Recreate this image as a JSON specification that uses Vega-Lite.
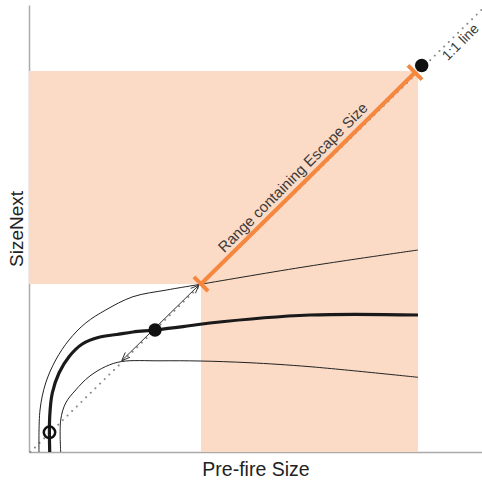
{
  "$schema": "https://vega.github.io/schema/vega-lite/v6.json",
  "autosize": {"type": "none"},
  "padding": {"left": 29, "top": 5, "right": 0, "bottom": 28},
  "width": 453,
  "height": 447,
  "config": {
    "view": {"stroke": null},
    "font": "Liberation Sans",
    "axis": {
      "domainColor": "#aaaaaa", "domainWidth": 1.5, "ticks": false, "labels": false, "grid": false,
      "titleFont": "Liberation Sans", "titleFontWeight": "normal", "titleColor": "#222222"
    }
  },
  "datasets": {
    "shade": [
      {"x": 0, "x2": 389, "y": 168, "y2": 381},
      {"x": 172, "x2": 389, "y": 0, "y2": 168}
    ],
    "oneToOne": [
      {"i": 0, "x": 1.3, "y": 0},
      {"i": 1, "x": 453, "y": 442.6}
    ],
    "curves": [
      {"curve": "upper", "i": 0, "x": 10, "y": 0},
      {"curve": "upper", "i": 1, "x": 11, "y": 42},
      {"curve": "upper", "i": 2, "x": 16.7, "y": 69},
      {"curve": "upper", "i": 3, "x": 26.7, "y": 92},
      {"curve": "upper", "i": 4, "x": 40, "y": 112},
      {"curve": "upper", "i": 5, "x": 56.7, "y": 129},
      {"curve": "upper", "i": 6, "x": 76.7, "y": 142},
      {"curve": "upper", "i": 7, "x": 104, "y": 155.3},
      {"curve": "upper", "i": 8, "x": 137.7, "y": 162},
      {"curve": "upper", "i": 9, "x": 170, "y": 167.5},
      {"curve": "upper", "i": 10, "x": 281, "y": 186},
      {"curve": "upper", "i": 11, "x": 389, "y": 202},
      {"curve": "middle", "i": 0, "x": 20.7, "y": 0},
      {"curve": "middle", "i": 1, "x": 20.7, "y": 35.3},
      {"curve": "middle", "i": 2, "x": 23.3, "y": 59},
      {"curve": "middle", "i": 3, "x": 30, "y": 79},
      {"curve": "middle", "i": 4, "x": 40, "y": 95.3},
      {"curve": "middle", "i": 5, "x": 53.3, "y": 108},
      {"curve": "middle", "i": 6, "x": 70, "y": 114.8},
      {"curve": "middle", "i": 7, "x": 87.7, "y": 117.5},
      {"curve": "middle", "i": 8, "x": 104, "y": 120},
      {"curve": "middle", "i": 9, "x": 126, "y": 122},
      {"curve": "middle", "i": 10, "x": 154, "y": 125.3},
      {"curve": "middle", "i": 11, "x": 181, "y": 129},
      {"curve": "middle", "i": 12, "x": 281, "y": 137},
      {"curve": "middle", "i": 13, "x": 389, "y": 137},
      {"curve": "lower", "i": 0, "x": 31.7, "y": 0},
      {"curve": "lower", "i": 1, "x": 31.7, "y": 32},
      {"curve": "lower", "i": 2, "x": 36.7, "y": 49},
      {"curve": "lower", "i": 3, "x": 46.7, "y": 62},
      {"curve": "lower", "i": 4, "x": 60, "y": 75.3},
      {"curve": "lower", "i": 5, "x": 76.7, "y": 85.5},
      {"curve": "lower", "i": 6, "x": 92.7, "y": 90.5},
      {"curve": "lower", "i": 7, "x": 131, "y": 91.2},
      {"curve": "lower", "i": 8, "x": 171, "y": 91},
      {"curve": "lower", "i": 9, "x": 220, "y": 89.3},
      {"curve": "lower", "i": 10, "x": 281, "y": 85.3},
      {"curve": "lower", "i": 11, "x": 389, "y": 74.7}
    ],
    "arrow": [
      {"seg": "shaft", "i": 0, "x": 92.7, "y": 91.3},
      {"seg": "shaft", "i": 1, "x": 170, "y": 167},
      {"seg": "headTop", "i": 0, "x": 161.7, "y": 163.6},
      {"seg": "headTop", "i": 1, "x": 170, "y": 167},
      {"seg": "headTop", "i": 2, "x": 166.4, "y": 158.75},
      {"seg": "headBot", "i": 0, "x": 101.0, "y": 94.7},
      {"seg": "headBot", "i": 1, "x": 92.7, "y": 91.3},
      {"seg": "headBot", "i": 2, "x": 96.3, "y": 99.55}
    ],
    "range": [
      {"seg": "main", "i": 0, "x": 172, "y": 168},
      {"seg": "main", "i": 1, "x": 386, "y": 379.5},
      {"seg": "t1", "i": 0, "x": 164.97, "y": 175.1},
      {"seg": "t1", "i": 1, "x": 179.03, "y": 160.9},
      {"seg": "t2", "i": 0, "x": 378.97, "y": 386.6},
      {"seg": "t2", "i": 1, "x": 393.03, "y": 372.4}
    ],
    "points": [
      {"kind": "filled", "x": 126, "y": 122},
      {"kind": "filled", "x": 392.7, "y": 386.5},
      {"kind": "open", "x": 20.5, "y": 19.7}
    ],
    "labels": [
      {"label": "Range containing Escape Size", "x": 264, "y": 274.5},
      {"label": "1:1 line", "x": 432, "y": 409.5}
    ]
  },
  "encoding": {
    "x": {"field": "x", "type": "quantitative", "scale": {"domain": [0, 453], "nice": false, "zero": false},
          "axis": {"title": "Pre-fire Size", "titleFontSize": 19.5, "titlePadding": 8}},
    "y": {"field": "y", "type": "quantitative", "scale": {"domain": [0, 447], "nice": false, "zero": false},
          "axis": {"title": "SizeNext", "titleFontSize": 19, "titlePadding": 3}}
  },
  "layer": [
    {
      "data": {"name": "shade"},
      "mark": {"type": "rect", "color": "#fbdac6", "opacity": 1},
      "encoding": {"x2": {"field": "x2"}, "y2": {"field": "y2"}}
    },
    {
      "data": {"name": "oneToOne"},
      "mark": {"type": "line", "color": "#888888", "strokeWidth": 2, "strokeDash": [0.01, 6.5], "strokeCap": "round"},
      "encoding": {"order": {"field": "i"}}
    },
    {
      "data": {"name": "curves"},
      "transform": [{"filter": "datum.curve !== 'middle'"}],
      "mark": {"type": "line", "color": "#222222", "strokeWidth": 1, "interpolate": "catmull-rom"},
      "encoding": {"detail": {"field": "curve"}, "order": {"field": "i"}}
    },
    {
      "data": {"name": "curves"},
      "transform": [{"filter": "datum.curve === 'middle'"}],
      "mark": {"type": "line", "color": "#1a1a1a", "strokeWidth": 3.2, "interpolate": "catmull-rom"},
      "encoding": {"detail": {"field": "curve"}, "order": {"field": "i"}}
    },
    {
      "data": {"name": "arrow"},
      "mark": {"type": "line", "color": "#333333", "strokeWidth": 1},
      "encoding": {"detail": {"field": "seg"}, "order": {"field": "i"}}
    },
    {
      "data": {"name": "range"},
      "mark": {"type": "line", "color": "#f5873f", "strokeWidth": 4, "strokeCap": "butt"},
      "encoding": {"detail": {"field": "seg"}, "order": {"field": "i"}}
    },
    {
      "data": {"name": "points"},
      "transform": [{"filter": "datum.kind === 'filled'"}],
      "mark": {"type": "point", "shape": "circle", "filled": true, "color": "#111111", "size": 180, "opacity": 1}
    },
    {
      "data": {"name": "points"},
      "transform": [{"filter": "datum.kind === 'open'"}],
      "mark": {"type": "point", "shape": "circle", "filled": false, "color": "#111111", "size": 130, "strokeWidth": 2.5, "opacity": 1}
    },
    {
      "data": {"name": "labels"},
      "transform": [{"filter": "datum.label !== '1:1 line'"}],
      "mark": {"type": "text", "angle": -45, "fontSize": 15, "color": "#3a3a3a", "align": "center", "baseline": "middle"},
      "encoding": {"text": {"field": "label"}}
    },
    {
      "data": {"name": "labels"},
      "transform": [{"filter": "datum.label === '1:1 line'"}],
      "mark": {"type": "text", "angle": -45, "fontSize": 14, "color": "#3a3a3a", "align": "center", "baseline": "middle"},
      "encoding": {"text": {"field": "label"}}
    },
    {
      "mark": {"type": "rule", "color": "#aaaaaa", "strokeWidth": 1.5},
      "encoding": {"y": {"datum": 447}, "x": {"datum": 0}, "x2": {"datum": 453}}
    }
  ]
}
